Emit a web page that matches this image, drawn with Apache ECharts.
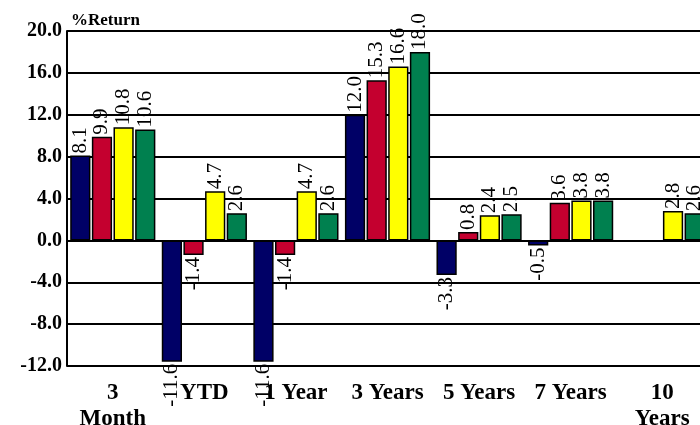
<!DOCTYPE html>
<html>
<head>
<meta charset="utf-8">
<script src="https://cdn.jsdelivr.net/npm/echarts@6/dist/echarts.min.js"></script>
<style>html,body{margin:0;padding:0;background:#fff}#c{width:700px;height:425px}</style>
</head>
<body>
<div id="c"></div>
<script>
const categories = ['3 Month', 'YTD', '1 Year', '3 Years', '5 Years', '7 Years', '10 Years'];
const categoryLabels = ['3\nMonth', 'YTD', '1 Year', '3 Years', '5 Years', '7 Years', '10\nYears'];
const seriesNames = ['Series 1', 'Series 2', 'Series 3', 'Series 4'];
const navyValues = [8.1, -11.6, -11.6, 12.0, -3.3, -0.5, null];
const redValues = [9.9, -1.4, -1.4, 15.3, 0.8, 3.6, null];
const yellowValues = [10.8, 4.7, 4.7, 16.6, 2.4, 3.8, 2.8];
const greenValues = [10.6, 2.6, 2.6, 18.0, 2.5, 3.8, 2.6];
const yTicks = [-12, -8, -4, 0, 4, 8, 12, 16, 20];
const colors = ['#000066', '#C4002F', '#FFFF00', '#00804F'];

const FONT = 'Liberation Serif';
function mkData(arr) {
  return arr.map(v => v == null ? null : {
    value: v,
    label: { position: v < 0 ? 'bottom' : 'top', align: v < 0 ? 'right' : 'left' }
  });
}
const allValues = [navyValues, redValues, yellowValues, greenValues];
const series = allValues.map((vals, i) => ({
  name: seriesNames[i],
  type: 'bar',
  data: mkData(vals),
  barGap: '7%',
  barCategoryGap: '7%',
  itemStyle: { color: colors[i], borderColor: '#000', borderWidth: 1.5 },
  label: {
    show: true,
    rotate: 90,
    verticalAlign: 'middle',
    distance: 2,
    fontFamily: FONT,
    fontSize: 21,
    color: '#000',
    formatter: p => Number(p.value).toFixed(1)
  }
}));

const chart = echarts.init(document.getElementById('c'), null, { renderer: 'canvas' });
chart.setOption({
  animation: false,
  backgroundColor: '#fff',
  title: {
    text: '%Return',
    left: 66, top: 7,
    textStyle: { fontFamily: FONT, fontWeight: 'bold', fontSize: 17, color: '#000' }
  },
  grid: { left: 67, right: -8, top: 31, bottom: 59, containLabel: false, outerBoundsMode: 'none' },
  xAxis: {
    type: 'category',
    data: categories,
    axisLine: { show: false },
    axisTick: { show: false },
    axisLabel: {
      interval: 0,
      margin: 14,
      fontFamily: FONT, fontWeight: 'bold', fontSize: 23, lineHeight: 26, color: '#000',
      formatter: (v, idx) => categoryLabels[idx]
    }
  },
  yAxis: {
    type: 'value',
    min: yTicks[0], max: yTicks[yTicks.length - 1], interval: 4,
    axisLine: { show: true, lineStyle: { color: '#000', width: 2 } },
    axisTick: { show: false },
    splitLine: { show: true, lineStyle: { color: '#000', width: 2 } },
    axisLabel: {
      margin: 5,
      fontFamily: FONT, fontWeight: 'bold', fontSize: 20, color: '#000',
      formatter: v => v.toFixed(1)
    }
  },
  series: series
});
</script>
</body>
</html>
